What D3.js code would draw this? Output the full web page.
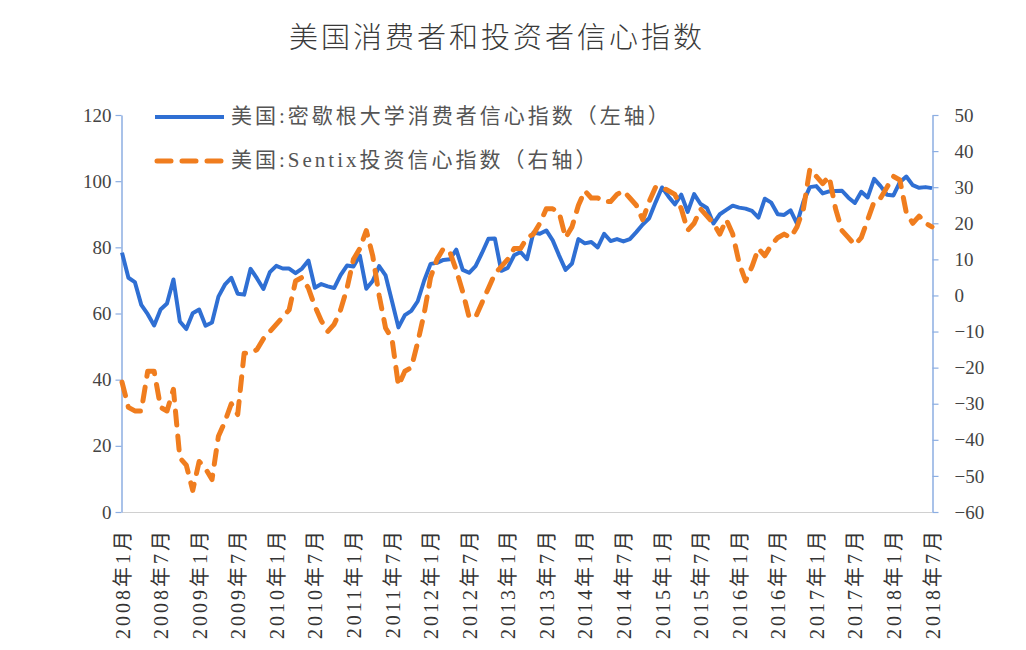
<!DOCTYPE html>
<html><head><meta charset="utf-8">
<script src="https://cdn.jsdelivr.net/npm/d3@7"></script>
<style>
html,body{margin:0;padding:0;background:#fff;}
svg text{font-family:"Liberation Serif","Noto Sans CJK SC",serif;}
</style></head>
<body><svg id="c" width="1026" height="650"></svg>
<script>
const title = "美国消费者和投资者信心指数";
const seriesNames = ["美国:密歇根大学消费者信心指数（左轴）", "美国:Sentix投资信心指数（右轴）"];
const tickLabels = ["2008年1月","2008年7月","2009年1月","2009年7月","2010年1月","2010年7月","2011年1月","2011年7月","2012年1月","2012年7月","2013年1月","2013年7月","2014年1月","2014年7月","2015年1月","2015年7月","2016年1月","2016年7月","2017年1月","2017年7月","2018年1月","2018年7月"];
const leftTicks = [0,20,40,60,80,100,120];
const rightTicks = [-60,-50,-40,-30,-20,-10,0,10,20,30,40,50];
// monthly, 2008-01 .. 2018-07
const consumer = [
78.4,70.8,69.5,62.6,59.8,56.4,61.2,63.0,70.3,57.6,55.3,60.1,
61.2,56.3,57.3,65.1,68.7,70.8,66.0,65.7,73.5,70.6,67.4,72.5,
74.4,73.6,73.6,72.2,73.6,76.0,67.8,68.9,68.2,67.7,71.6,74.5,
74.2,77.5,67.5,69.8,74.3,71.5,63.7,55.8,59.5,60.8,63.7,69.9,
75.0,75.3,76.2,76.4,79.3,73.2,72.3,74.3,78.3,82.6,82.7,72.9,
73.8,77.6,78.6,76.4,84.5,84.1,85.1,82.1,77.5,73.2,75.1,82.5,
81.2,81.6,80.0,84.1,81.9,82.5,81.8,82.5,84.6,86.9,88.8,93.6,
98.1,95.4,93.0,95.9,90.7,96.1,93.1,91.9,87.2,90.0,91.3,92.6,
92.0,91.7,91.0,89.0,94.7,93.5,90.0,89.8,91.2,87.2,93.8,98.2,
98.5,96.3,96.9,97.0,97.1,95.0,93.4,96.8,95.1,100.7,98.5,95.9,
95.7,99.7,101.4,98.8,98.0,98.2,97.9];
const sentix = [
-24,-31,-32,-32,-21,-21,-31,-32,-26,-45,-47,-54,
-46,-48,-51,-39,-35,-30,-33,-16,-16,-15,-12,-10,
-8,-6,-4,4,5,2,-3,-7,-10,-8,-4,2,
10,13,18,11,0,-9,-12,-25,-21,-20,-13,-5,
5,10,13,12,7,1,-6,-6,-2,2,6,8,
10,13,13,16,17,20,24,24,23,16,19,25,
29,27,27,26,26,28,29,27,25,21,26,30,
30,29,28,24,18,20,24,22,20,17,21,17,
9,4,8,13,11,14,16,17,16,19,24,35,
33,31,33,24,18,16,14,16,21,26,27,30,
33,32,23,20,22,20,19];

const svg = d3.select("#c");
const x = d3.scaleLinear().domain([0, consumer.length - 1]).range([122, 932]);
const yL = d3.scaleLinear().domain([0, 120]).range([512, 115]);
const yR = d3.scaleLinear().domain([-60, 50]).range([512, 115]);
const axisBlue = "#8CAEE2";
const blue = "#2F6FD3", orange = "#F07D1E";

svg.append("text").attr("x", 497).attr("y", 48).attr("text-anchor", "middle")
  .style("font-family", "'Noto Sans CJK SC'").style("font-size", "29px").style("fill", "#3a3a3a")
  .style("font-weight", "300").style("letter-spacing", "3px").text(title);

// bottom axis line
svg.append("line").attr("x1", 122).attr("x2", 932).attr("y1", 512.5).attr("y2", 512.5)
  .attr("stroke", "#d0d0d0").attr("stroke-width", 1.2);

// left axis
const gl = svg.append("g").attr("transform", "translate(121.5,0)")
  .call(d3.axisLeft(yL).tickValues(leftTicks).tickSize(6).tickSizeOuter(0).tickPadding(4));
gl.select(".domain").attr("stroke", axisBlue).attr("stroke-width", 1.5);
gl.selectAll(".tick line").attr("stroke", axisBlue).attr("stroke-width", 1.2);
gl.selectAll(".tick text").style("font-size", "19px").style("fill", "#444")
  .style("font-family", "'Liberation Serif'");

// right axis
const gr = svg.append("g").attr("transform", "translate(932.5,0)")
  .call(d3.axisRight(yR).tickValues(rightTicks).tickSize(6).tickSizeOuter(0).tickPadding(16));
gr.select(".domain").attr("stroke", axisBlue).attr("stroke-width", 1.5);
gr.selectAll(".tick line").attr("stroke", axisBlue).attr("stroke-width", 1.2);
gr.selectAll(".tick text").style("font-size", "19px").style("fill", "#444")
  .style("font-family", "'Liberation Serif'");

// x labels
svg.append("g").selectAll("text").data(tickLabels).join("text")
  .attr("transform", (d, i) => `translate(${x(i * 6) + 3},528) rotate(-90)`)
  .attr("text-anchor", "end").attr("dominant-baseline", "middle")
  .style("font-size", "20px").style("fill", "#333").style("letter-spacing", "3px")
  .text(d => d);

// lines
const lineL = d3.line().x((d, i) => x(i)).y(d => yL(d));
const lineR = d3.line().x((d, i) => x(i)).y(d => yR(d));
svg.append("path").datum(consumer).attr("d", lineL).attr("fill", "none")
  .attr("stroke", blue).attr("stroke-width", 4).attr("stroke-linejoin", "round");
svg.append("path").datum(sentix).attr("d", lineR).attr("fill", "none")
  .attr("stroke", orange).attr("stroke-width", 5).attr("stroke-dasharray", "14,11")
  .attr("stroke-linecap", "round").attr("stroke-linejoin", "round");

// legend
const lg = svg.append("g");
lg.append("line").attr("x1", 155).attr("x2", 224).attr("y1", 117).attr("y2", 117)
  .attr("stroke", blue).attr("stroke-width", 4);
lg.append("line").attr("x1", 157).attr("x2", 222).attr("y1", 161).attr("y2", 161)
  .attr("stroke", orange).attr("stroke-width", 5).attr("stroke-dasharray", "14,11").attr("stroke-linecap", "round");
lg.selectAll("text.lt").data(seriesNames).join("text").attr("class", "lt")
  .attr("x", 231).attr("y", (d, i) => 118 + i * 44).attr("dominant-baseline", "middle")
  .style("font-size", "21px").style("fill", "#555").style("letter-spacing", "3px").text(d => d);
</script></body></html>
